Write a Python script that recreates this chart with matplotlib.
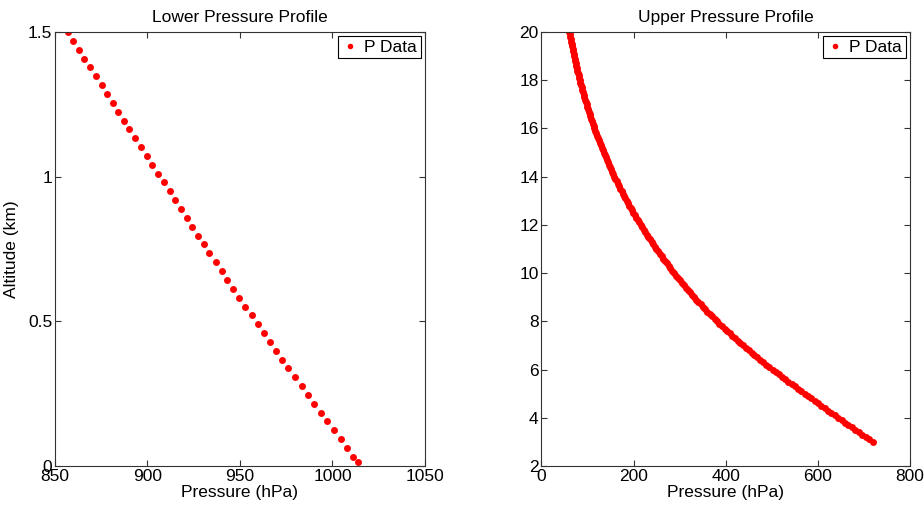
import matplotlib
matplotlib.use('Agg')
import matplotlib.pyplot as plt
from matplotlib.ticker import FuncFormatter

plt.rcParams['font.family'] = ['Liberation Sans', 'DejaVu Sans']

# lower profile: altitude (km) and pressure (hPa)
low_alt = [0.015, 0.031, 0.062, 0.092, 0.123, 0.154, 0.184, 0.215, 0.245, 0.276,
           0.307, 0.337, 0.368, 0.398, 0.429, 0.460, 0.490, 0.521, 0.551, 0.582,
           0.613, 0.643, 0.674, 0.704, 0.735, 0.766, 0.796, 0.827, 0.857, 0.888,
           0.919, 0.949, 0.980, 1.010, 1.041, 1.072, 1.102, 1.133, 1.163, 1.194,
           1.225, 1.255, 1.286, 1.316, 1.347, 1.378, 1.408, 1.439, 1.469, 1.500]
low_p = [1013.6, 1011.3, 1007.8, 1004.4, 1001.0, 997.2, 993.8, 990.2, 986.8, 983.3,
         979.5, 976.1, 972.9, 969.6, 966.0, 962.8, 959.7, 956.3, 952.9, 949.6,
         946.4, 943.2, 940.1, 937.0, 933.5, 930.4, 927.3, 924.2, 921.2, 918.1,
         914.9, 912.0, 908.7, 905.7, 902.6, 899.5, 896.3, 893.2, 890.2, 887.3,
         884.2, 881.2, 878.1, 875.2, 872.2, 868.9, 865.9, 863.2, 859.9, 856.8]

# upper profile
up_alt = [3.0, 3.1, 3.2, 3.3, 3.4, 3.5, 3.6, 3.7, 3.8, 3.9,
          4.0, 4.1, 4.2, 4.3, 4.4, 4.5, 4.6, 4.7, 4.8, 4.9,
          5.0, 5.1, 5.2, 5.3, 5.4, 5.5, 5.6, 5.7, 5.8, 5.9,
          6.0, 6.1, 6.2, 6.3, 6.4, 6.5, 6.6, 6.7, 6.8, 6.9,
          7.0, 7.1, 7.2, 7.3, 7.4, 7.5, 7.6, 7.7, 7.8, 7.9,
          8.0, 8.1, 8.2, 8.3, 8.4, 8.5, 8.6, 8.7, 8.8, 8.9,
          9.0, 9.1, 9.2, 9.3, 9.4, 9.5, 9.6, 9.7, 9.8, 9.9,
          10.0, 10.1, 10.2, 10.3, 10.4, 10.5, 10.6, 10.7, 10.8, 10.9,
          11.0, 11.1, 11.2, 11.3, 11.4, 11.5, 11.6, 11.7, 11.8, 11.9,
          12.0, 12.1, 12.2, 12.3, 12.4, 12.5, 12.6, 12.7, 12.8, 12.9,
          13.0, 13.1, 13.2, 13.3, 13.4, 13.5, 13.6, 13.7, 13.8, 13.9,
          14.0, 14.1, 14.2, 14.3, 14.4, 14.5, 14.6, 14.7, 14.8, 14.9,
          15.0, 15.1, 15.2, 15.3, 15.4, 15.5, 15.6, 15.7, 15.8, 15.9,
          16.0, 16.1, 16.2, 16.3, 16.4, 16.5, 16.6, 16.7, 16.8, 16.9,
          17.0, 17.1, 17.2, 17.3, 17.4, 17.5, 17.6, 17.7, 17.8, 17.9,
          18.0, 18.1, 18.2, 18.3, 18.4, 18.5, 18.6, 18.7, 18.8, 18.9,
          19.0, 19.1, 19.2, 19.3, 19.4, 19.5, 19.6, 19.7, 19.8, 19.9,
          20.0]
up_p = [719.0, 711.5, 704.0, 696.4, 688.9, 681.4, 673.9, 666.5, 659.0, 651.6,
        644.1, 636.8, 629.4, 622.1, 614.7, 607.4, 600.2, 593.0, 585.7, 578.5,
        571.3, 564.2, 557.2, 550.1, 543.1, 536.0, 529.1, 522.2, 515.4, 508.5,
        501.6, 495.0, 488.4, 481.9, 475.3, 468.7, 462.5, 456.3, 450.1, 443.9,
        437.7, 431.9, 426.0, 420.2, 414.3, 408.5, 403.0, 397.5, 392.0, 386.5,
        381.0, 375.8, 370.7, 365.5, 360.4, 355.2, 350.4, 345.6, 340.8, 336.0,
        331.2, 326.7, 322.2, 317.8, 313.3, 308.8, 304.6, 300.4, 296.3, 292.1,
        287.9, 284.0, 280.1, 276.1, 272.2, 268.3, 264.6, 260.9, 257.1, 253.4,
        249.7, 246.2, 242.7, 239.1, 235.6, 232.1, 228.8, 225.5, 222.1, 218.8,
        215.5, 212.4, 209.2, 206.1, 202.9, 199.8, 196.8, 193.9, 190.9, 188.0,
        185.0, 182.2, 179.4, 176.7, 173.9, 171.1, 168.5, 165.9, 163.2, 160.6,
        158.0, 155.6, 153.2, 150.7, 148.3, 145.9, 143.7, 141.4, 139.2, 136.9,
        134.7, 132.6, 130.5, 128.5, 126.4, 124.3, 122.4, 120.5, 118.6, 116.7,
        114.8, 113.0, 111.2, 109.5, 107.7, 105.9, 104.3, 102.7, 101.0, 99.4,
        97.8, 96.3, 94.8, 93.3, 91.8, 90.3, 88.9, 87.5, 86.1, 84.7,
        83.3, 82.0, 80.7, 79.5, 78.2, 76.9, 75.7, 74.5, 73.4, 72.2,
        71.0, 69.9, 68.8, 67.8, 66.7, 65.6, 64.6, 63.6, 62.5, 61.5,
        60.5]

fs = 12.5
edge = '#333333'

fig = plt.figure(figsize=(9.24, 5.07), dpi=100)
ax1 = fig.add_axes([0.0595, 0.0809, 0.4004, 0.856])
ax2 = fig.add_axes([0.586, 0.0809, 0.3988, 0.856])


def style(ax):
    for s in ax.spines.values():
        s.set_color(edge)
        s.set_linewidth(0.8)
    ax.tick_params(direction='in', length=4, width=0.8, color=edge,
                   top=True, right=True, labelsize=fs, pad=2)
    ax.yaxis.set_major_formatter(FuncFormatter(lambda v, p: '%g' % v))
    ax.xaxis.set_major_formatter(FuncFormatter(lambda v, p: '%g' % v))
    leg = ax.legend(loc='upper right', fontsize=fs, fancybox=False, framealpha=1,
                    edgecolor='black', borderaxespad=0.25, handlelength=0.9,
                    handletextpad=0.4, borderpad=0.2, markerscale=0.8)
    leg.get_frame().set_linewidth(0.8)


ax1.plot(low_p, low_alt, 'o', color='#ff0000', ms=5, mew=0, label='P Data')
ax1.set_xlim(850, 1050)
ax1.set_ylim(0, 1.5)
ax1.set_xticks([850, 900, 950, 1000, 1050])
ax1.set_yticks([0, 0.5, 1, 1.5])
ax1.set_title('Lower Pressure Profile', fontsize=fs, pad=7)
ax1.set_xlabel('Pressure (hPa)', fontsize=fs, labelpad=1)
ax1.set_ylabel('Altitude (km)', fontsize=fs, labelpad=6)
style(ax1)

ax2.plot(up_p, up_alt, 'o', color='#ff0000', ms=5, mew=0, label='P Data')
ax2.set_xlim(0, 800)
ax2.set_ylim(2, 20)
ax2.set_xticks([0, 200, 400, 600, 800])
ax2.set_yticks(range(2, 21, 2))
ax2.set_title('Upper Pressure Profile', fontsize=fs, pad=7)
ax2.set_xlabel('Pressure (hPa)', fontsize=fs, labelpad=1)
style(ax2)

fig.savefig('out.png', dpi=100)
